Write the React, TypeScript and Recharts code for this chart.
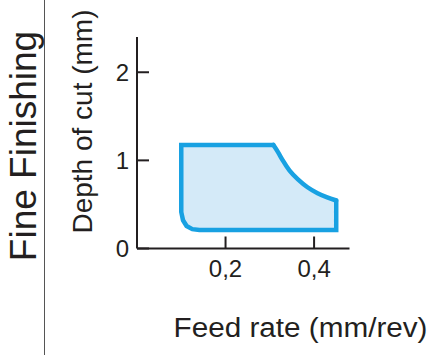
import {
  ComposedChart,
  Area,
  Line,
  XAxis,
  YAxis
} from "recharts"

// working window (feed in mm/rev, depth in mm)
// curved upper-right edge
const curveFeed = [0.308, 0.318, 0.329, 0.344, 0.363, 0.385, 0.408, 0.43, 0.45]
const curveDepth = [1.175, 1.1, 1.0, 0.88, 0.785, 0.69, 0.625, 0.578, 0.545]
// straight edges + rounded lower-left corner, from the top-right corner round to the right edge
const frameFeed = [0.308, 0.1, 0.1, 0.104, 0.112, 0.125, 0.141, 0.45, 0.45]
const frameDepth = [1.175, 1.175, 0.413, 0.32, 0.255, 0.22, 0.21, 0.21, 0.545]

// same window as low/high pairs for the fill
const fillFeed = [0.1, 0.104, 0.112, 0.125, 0.141, 0.308, 0.318, 0.329, 0.344, 0.363, 0.385, 0.408, 0.43, 0.45]
const fillLow = [0.413, 0.32, 0.255, 0.22, 0.21, 0.21, 0.21, 0.21, 0.21, 0.21, 0.21, 0.21, 0.21, 0.21]
const fillHigh = [1.175, 1.175, 1.175, 1.175, 1.175, 1.175, 1.1, 1.0, 0.88, 0.785, 0.69, 0.625, 0.578, 0.545]

const xTicks = [0.2, 0.4]
const yTicks = [0, 1, 2]

const title = "Fine Finishing"
const xLabel = "Feed rate (mm/rev)"
const yLabel = "Depth of cut (mm)"

const curve = curveFeed.map((f, i) => ({ feed: f, depth: curveDepth[i] }))
const frame = frameFeed.map((f, i) => ({ feed: f, depth: frameDepth[i] }))
const fill = fillFeed.map((f, i) => ({ feed: f, range: [fillLow[i], fillHigh[i]] }))

const ink = "#231f20"
const blue = "#18a1e2"
const font = "'Liberation Sans', Arial, sans-serif"

export default function App() {
  return (
    <div style={{ position: "absolute", left: 0, top: 0, width: 438, height: 355, background: "#fff" }}>
      <ComposedChart
        width={438}
        height={355}
        margin={{ top: 37, right: 88.5, bottom: 76.5, left: 97 }}
      >
        <XAxis
          type="number"
          dataKey="feed"
          domain={[0, 0.48]}
          ticks={xTicks}
          tickFormatter={(v: number) => v.toFixed(1).replace(".", ",")}
          height={30}
          tickSize={-12}
          tickMargin={23.5}
          stroke={ink}
          axisLine={{ stroke: ink, strokeWidth: 2 }}
          tickLine={{ stroke: ink, strokeWidth: 2 }}
          tick={{ fill: ink, fontSize: 24, fontFamily: font }}
          allowDataOverflow
        />
        <YAxis
          type="number"
          domain={[0, 2.4]}
          ticks={yTicks}
          width={40}
          tickSize={-12}
          tickMargin={20}
          stroke={ink}
          axisLine={{ stroke: ink, strokeWidth: 2 }}
          tickLine={{ stroke: ink, strokeWidth: 2 }}
          tick={{ fill: ink, fontSize: 24, fontFamily: font }}
          allowDataOverflow
        />
        <Area
          data={fill}
          dataKey="range"
          type="monotone"
          fill="#d4eaf8"
          fillOpacity={1}
          stroke="none"
          isAnimationActive={false}
        />
        <Line
          data={frame}
          dataKey="depth"
          type="linear"
          stroke={blue}
          strokeWidth={4.5}
          strokeLinecap="round"
          strokeLinejoin="miter"
          dot={false}
          activeDot={false}
          isAnimationActive={false}
        />
        <Line
          data={curve}
          dataKey="depth"
          type="basis"
          stroke={blue}
          strokeWidth={4.5}
          strokeLinecap="round"
          dot={false}
          activeDot={false}
          isAnimationActive={false}
        />
      </ComposedChart>
      <svg
        width={438}
        height={355}
        style={{ position: "absolute", left: 0, top: 0, pointerEvents: "none" }}
        fontFamily={font}
        fill={ink}
      >
        <line x1={44.5} y1={0} x2={44.5} y2={355} stroke="#555" strokeWidth={1} />
        <text transform="translate(35.5,146) rotate(-90)" textAnchor="middle" fontSize={37}>
          {title}
        </text>
        <text transform="translate(92,121.5) rotate(-90)" textAnchor="middle" fontSize={28}>
          {yLabel}
        </text>
        <text x={300.5} y={337} textAnchor="middle" fontSize={27} textLength={254} lengthAdjust="spacingAndGlyphs">
          {xLabel}
        </text>
      </svg>
    </div>
  )
}
